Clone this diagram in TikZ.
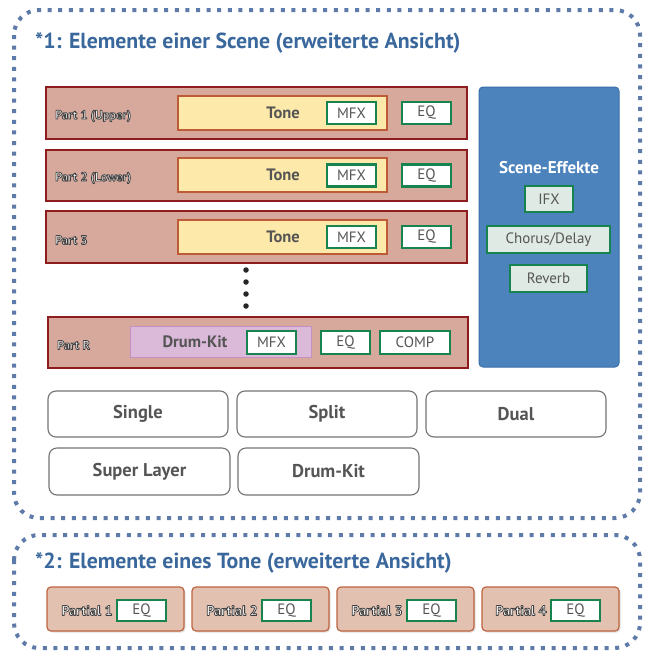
\documentclass[tikz,border=0pt]{standalone}
\usepackage{fontspec}
\setmainfont{PT Sans}
\usetikzlibrary{shadows}

\definecolor{frameblue}{HTML}{5D7AA8}
\definecolor{titleblue}{HTML}{3A689C}
\definecolor{partfill}{HTML}{D6A99C}
\definecolor{partdraw}{HTML}{8E1C1C}
\definecolor{tonefill}{HTML}{FDE9A9}
\definecolor{tonedraw}{HTML}{BC5B35}
\definecolor{fxgreen}{HTML}{17834F}
\definecolor{txtgray}{HTML}{555555}
\definecolor{kitfill}{HTML}{DAB9D9}
\definecolor{kitdraw}{HTML}{C690C4}
\definecolor{scenefill}{HTML}{4C83BD}
\definecolor{scenedraw}{HTML}{3A6EA8}
\definecolor{effill}{HTML}{DFEAE4}
\definecolor{partialfill}{HTML}{E3C1B1}
\definecolor{partialdraw}{HTML}{BD6340}

\tikzset{
  x=1pt, y=-1pt,
  dotframe/.style={draw=frameblue, line width=4pt, dash pattern=on 4pt off 6.6pt, rounded corners=25pt},
  heading/.style={anchor=west, inner sep=0pt, text=titleblue, font=\fontsize{21.8}{24}\selectfont\bfseries},
  partbox/.style={draw=partdraw, fill=partfill, line width=2.5pt, minimum width=421pt, minimum height=52pt, inner sep=0pt},
  tonebox/.style={draw=tonedraw, fill=tonefill, line width=2.5pt, minimum width=209pt, minimum height=34pt, inner sep=0pt},
  kitbox/.style={draw=kitdraw, fill=kitfill, line width=1pt, minimum width=181pt, minimum height=31pt, inner sep=0pt},
  fxbox/.style={draw=fxgreen, fill=white, line width=2.5pt, minimum width=49pt, minimum height=22pt, inner sep=0pt,
    text=txtgray, font=\fontsize{15}{17}\selectfont},
  efbox/.style={fxbox, fill=effill, minimum height=27pt},
  bigtext/.style={text=txtgray, font=\fontsize{16.5}{19}\selectfont\bfseries},
  partlabel/.style={anchor=west, inner sep=0pt, text=white, font=\fontsize{12.5}{14}\selectfont\bfseries},
  modebox/.style={draw=black!55, line width=1.1pt, rounded corners=8pt, minimum width=180pt, minimum height=46pt,
    inner sep=0pt, text=txtgray, font=\fontsize{18.5}{21}\selectfont\bfseries},
  partialbox/.style={draw=partialdraw, fill=partialfill, line width=1.2pt, rounded corners=4pt,
    minimum width=137pt, minimum height=44pt, inner sep=0pt,
    drop shadow={opacity=0.25, shadow xshift=1.5pt, shadow yshift=-1.5pt}},
  dot/.style={circle, fill=black!85, minimum size=5.5pt, inner sep=0pt}
}
% white lettering with a dark outline (fill + stroke text rendering)
\newcommand{\embossed}[1]{\special{pdf:code q 2 Tr 0.8 w 1 j 0.25 G}#1\special{pdf:code Q}}

\begin{document}
\begin{tikzpicture}
\useasboundingbox (0,0) rectangle (649,651);

% ---------- Scene elements ----------
\draw[dotframe] (14,10) rectangle (640,518);
\node[heading] (h1) at (35,43) {*1: Elemente einer Scene (erweiterte Ansicht)};

% Part 1
\node[partbox] (p1) at (256.5,113) {};
\node[tonebox] (t1) at (282.5,113) {};
\node[bigtext] (t1l) at (283,113) {Tone};
\node[fxbox] (m1) at (351.5,113) {MFX};
\node[fxbox] (e1) at (426.5,113) {EQ};
\node[partlabel] (p1l) at (55,116) {\embossed{Part 1 (Upper)}};

% Part 2
\node[partbox, minimum height=51pt] (p2) at (256.5,175.5) {};
\node[tonebox] (t2) at (282.5,175) {};
\node[bigtext] (t2l) at (283,175) {Tone};
\node[fxbox] (m2) at (351.5,175.5) {MFX};
\node[fxbox] (e2) at (426.5,175.5) {EQ};
\node[partlabel] (p2l) at (55,178) {\embossed{Part 2 (Lower)}};

% Part 3
\node[partbox] (p3) at (256.5,237) {};
\node[tonebox] (t3) at (282.5,237) {};
\node[bigtext] (t3l) at (283,237) {Tone};
\node[fxbox] (m3) at (351.5,237) {MFX};
\node[fxbox] (e3) at (426.5,237) {EQ};
\node[partlabel] (p3l) at (55,240) {\embossed{Part 3}};

% continuation dots
\foreach \yy [count=\i] in {270,282,294,306}
  \node[dot] (d\i) at (246,\yy) {};

% Part R (rhythm)
\node[partbox, minimum width=420pt, minimum height=51pt] (pr) at (258,342.5) {};
\node[kitbox] (kr) at (220.5,341.5) {};
\node[bigtext] (krl) at (195,341.5) {Drum-Kit};
\node[fxbox, minimum height=23pt] (mr) at (271.5,342.5) {MFX};
\node[fxbox, minimum height=23pt] (er) at (345.5,342.5) {EQ};
\node[fxbox, minimum height=23pt, minimum width=70pt] (cr) at (415,342.5) {COMP};
\node[partlabel] (prl) at (57,345) {\embossed{Part R}};

% Scene effects panel
\node[draw=scenedraw, fill=scenefill, line width=1pt, rounded corners=4pt,
      minimum width=140pt, minimum height=280pt] (sc) at (549,227) {};
\node[text=white, font=\fontsize{17}{19}\selectfont\bfseries] (scl) at (549,168) {Scene-Effekte};
\node[efbox, minimum width=48pt, minimum height=26pt] (ifx) at (549,199) {IFX};
\node[efbox, minimum width=123pt] (cho) at (548.5,239.5) {Chorus/Delay};
\node[efbox, minimum width=77pt] (rev) at (548.5,278.5) {Reverb};

% Scene modes
\node[modebox] (single) at (138,414) {Single};
\node[modebox] (split) at (327,414) {Split};
\node[modebox] (dual) at (516,414) {Dual};
\node[modebox, minimum width=181pt, minimum height=47pt] (super) at (139.5,471.5) {Super Layer};
\node[modebox, minimum width=181pt, minimum height=47pt] (drum) at (328.5,471.5) {Drum-Kit};

% ---------- Tone elements ----------
\draw[dotframe] (14,535) rectangle (640,648);
\node[heading] (h2) at (35,563) {*2: Elemente eines Tone (erweiterte Ansicht)};

\foreach \cx/\ex/\n in {115.5/141.5/1, 260.5/286.5/2, 405.5/431.5/3, 550.5/575.5/4}{
  \node[partialbox] (pa\n) at (\cx,609) {};
  \node[fxbox, minimum height=21pt] (pe\n) at (\ex,610.5) {EQ};
  \node[partlabel, anchor=east, font=\fontsize{14}{16}\selectfont\bfseries] (pl\n) at ([xshift=-3pt]pe\n.west) {\embossed{Partial \n}};
}
\end{tikzpicture}
\end{document}
